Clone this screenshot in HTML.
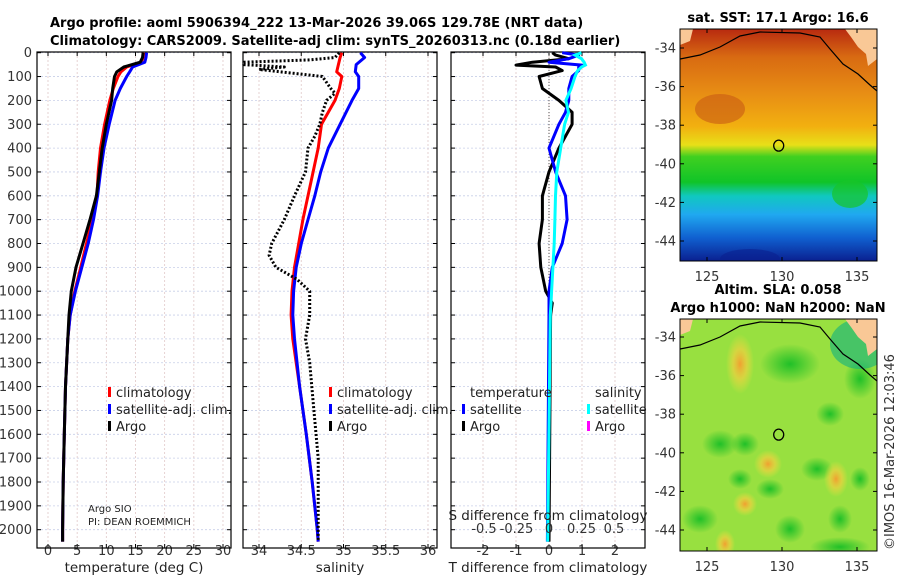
<!DOCTYPE html>
<html><head><meta charset="utf-8">
<style>
body{margin:0;background:#fff;}
svg{display:block;font-family:"DejaVu Sans","Liberation Sans",sans-serif;}
</style></head>
<body>
<svg id="fig" width="900" height="580" viewBox="0 0 900 580" xmlns="http://www.w3.org/2000/svg">
<defs>
<linearGradient id="sstGrad" x1="0" y1="0" x2="0" y2="1">
<stop offset="0" stop-color="#b82a10"/>
<stop offset="0.12" stop-color="#d86a12"/>
<stop offset="0.28" stop-color="#e88e14"/>
<stop offset="0.42" stop-color="#f2b010"/>
<stop offset="0.5" stop-color="#e8e018"/>
<stop offset="0.55" stop-color="#40d020"/>
<stop offset="0.66" stop-color="#10c428"/>
<stop offset="0.72" stop-color="#10c8c0"/>
<stop offset="0.8" stop-color="#20a8f0"/>
<stop offset="0.9" stop-color="#1060d0"/>
<stop offset="1" stop-color="#0a2090"/>
</linearGradient>
<radialGradient id="gblob"><stop offset="0" stop-color="#20c028"/><stop offset="1" stop-color="#20c028" stop-opacity="0"/></radialGradient>
<radialGradient id="oblob"><stop offset="0" stop-color="#f0a030"/><stop offset="0.5" stop-color="#f0d040" stop-opacity="0.7"/><stop offset="1" stop-color="#f0e040" stop-opacity="0"/></radialGradient>
<clipPath id="clipM1"><rect x="680" y="29" width="197" height="232"/></clipPath>
<clipPath id="clipM2"><rect x="680" y="319" width="197" height="232"/></clipPath>
</defs>
<g id="titles">
<text x="50" y="27" font-size="13" font-weight="bold">Argo profile: aoml 5906394_222 13-Mar-2026 39.06S 129.78E (NRT data)</text>
<text x="50" y="45" font-size="13" font-weight="bold">Climatology: CARS2009. Satellite-adj clim: synTS_20260313.nc (0.18d earlier)</text>
</g>
<g id="plots"></g>
<g id="maps"></g>
</svg>
<script>
// ---- data ----
const depthT = [0,20,40,60,80,100,150,200,300,400,500,600,700,800,900,1000,1100,1200,1400,1600,1800,2000,2050];
const tempArgo = [16.3,16.2,15.8,13.0,11.8,11.4,11.1,10.9,10.0,9.3,8.8,8.3,7.2,6.0,4.8,4.0,3.6,3.4,3.0,2.8,2.6,2.5,2.5];
const tempClim = [16.4,16.3,16.0,13.5,12.5,12.0,11.2,10.6,9.7,9.0,8.6,8.4,7.6,6.6,5.6,4.6,3.8,3.4,3.0,2.8,2.6,2.5,2.5];
const tempSat  = [16.9,16.8,16.6,14.5,14.0,13.5,12.4,11.5,10.5,9.6,9.0,8.5,7.8,6.9,5.8,4.7,3.8,3.4,3.0,2.8,2.6,2.5,2.5];
const depthS = [0,20,50,80,100,150,200,300,400,500,600,700,800,900,1000,1100,1200,1400,1600,1800,2000,2050];
const salClim = [34.98,34.96,34.94,34.92,34.98,34.95,34.9,34.74,34.7,34.64,34.58,34.52,34.47,34.42,34.39,34.38,34.4,34.48,34.56,34.63,34.69,34.7];
const salSat  = [35.2,35.25,35.15,35.14,35.18,35.18,35.1,34.96,34.82,34.73,34.66,34.58,34.5,34.44,34.41,34.4,34.42,34.48,34.56,34.63,34.69,34.7];
const depthSA = [0,20,30,40,50,60,70,80,100,150,170,200,250,300,350,400,500,600,700,800,850,900,950,1000,1100,1200,1300,1500,1700,2000,2050];
const salArgo = [34.95,34.9,34.6,33.82,33.82,34.3,34.0,34.25,34.75,34.85,34.9,34.8,34.75,34.72,34.66,34.58,34.55,34.42,34.3,34.15,34.12,34.2,34.45,34.6,34.6,34.55,34.6,34.65,34.7,34.7,34.7];
const depthD = [0,10,25,40,52,60,75,100,150,200,250,300,400,500,600,700,800,900,1000,1050,1100,2050];
const dTArgo = [0.1,0.2,0.6,-0.5,-1.0,0.2,0.4,-0.3,-0.2,0.3,0.7,0.7,0.3,0.0,-0.2,-0.2,-0.3,-0.25,-0.1,0.1,0.05,0.0];
const dTSat  = [0.4,0.9,0.6,0.0,1.0,0.9,0.9,0.7,0.6,0.6,0.5,0.3,0.0,0.2,0.5,0.55,0.4,0.1,0.0,0.0,0.0,-0.05];
const dSSat  = [0.25,0.2,0.25,0.27,0.28,0.25,0.22,0.2,0.17,0.13,0.15,0.12,0.09,0.06,0.05,0.045,0.04,0.03,0.02,0.015,0.01,-0.01];
const depthTicks = [0,100,200,300,400,500,600,700,800,900,1000,1100,1200,1300,1400,1500,1600,1700,1800,1900,2000];
const tTicks = [0,5,10,15,20,25,30];
const sTicks = [34,34.5,35,35.5,36];
const sTickLabels = ["34","34.5","35","35.5","36"];
const dTTicks = [-2,-1,0,1,2];
const dSTicks = [-0.5,-0.25,0,0.25,0.5];
const dSTickLabels = ["-0.5","-0.25","0","0.25","0.5"];
const latTicks = [-34,-36,-38,-40,-42,-44];
const lonTicks = [125,130,135];

const NS="http://www.w3.org/2000/svg";
function el(tag,attrs,parent,text){const e=document.createElementNS(NS,tag);for(const k in attrs)e.setAttribute(k,attrs[k]);if(text!==undefined)e.textContent=text;parent.appendChild(e);return e;}
const yD = d => 52.7 + d*0.2385;
const TOP=52, BOT=548;
const plots=document.getElementById('plots');

const panels=[
 {name:'temperature-panel',x0:37,x1:231,f:v=>48+v*5.833,ticks:tTicks,labels:tTicks.map(String),xlabel:'temperature (deg C)',lx:134},
 {name:'salinity-panel',x0:243,x1:437,f:v=>259+(v-34)*84.5,ticks:sTicks,labels:sTickLabels,xlabel:'salinity',lx:340},
 {name:'difference-panel',x0:451,x1:645,f:v=>549+v*33,ticks:dTTicks,labels:dTTicks.map(String),xlabel:'T difference from climatology',lx:548}
];
panels.forEach((p,i)=>{
 const g=el('g',{},plots);
 
 
 el('rect',{x:p.x0,y:TOP,width:p.x1-p.x0,height:BOT-TOP,fill:'#fff'},g);
 depthTicks.forEach(d=>{
  el('line',{x1:p.x0,x2:p.x1,y1:yD(d),y2:yD(d),stroke:'#c8cfe8','stroke-width':0.8,'stroke-dasharray':'2,2'},g);
  el('line',{x1:p.x0,x2:p.x0+4,y1:yD(d),y2:yD(d),stroke:'#000'},g);
  el('line',{x1:p.x1,x2:p.x1-4,y1:yD(d),y2:yD(d),stroke:'#000'},g);
  if(i===0){const t=el('text',{x:32,y:yD(d)+4.5,'font-size':13,'text-anchor':'end',fill:'#333'},g,String(d));}
 });
 p.ticks.forEach((v,j)=>{
  const x=p.f(v);
  el('line',{x1:x,x2:x,y1:TOP,y2:BOT,stroke:'#e0c8c8','stroke-width':0.8,'stroke-dasharray':'2,2'},g);
  el('line',{x1:x,x2:x,y1:BOT,y2:BOT-4,stroke:'#000'},g);
  el('line',{x1:x,x2:x,y1:TOP,y2:TOP+4,stroke:'#000'},g);
  const t=el('text',{x:x,y:555,'font-size':13,'text-anchor':'middle',fill:'#333'},g,p.labels[j]);
  
  
 });
 const xl=el('text',{x:p.lx,y:572,'font-size':13.5,'text-anchor':'middle',fill:'#222'},g,p.xlabel);
 
 
 el('rect',{x:p.x0,y:TOP,width:p.x1-p.x0,height:BOT-TOP,fill:'none',stroke:'#000','stroke-width':1.2},g);
 p.g=g;
});
function line(panel,depths,vals,color,w,dash,name){
 const pts=depths.map((d,i)=>panel.f(vals[i]).toFixed(1)+','+yD(d).toFixed(1)).join(' ');
 const pl=el('polyline',{points:pts,fill:'none',stroke:color,'stroke-width':w,'stroke-linejoin':'round'},panel.g);
 if(dash)pl.setAttribute('stroke-dasharray',dash);
 
 
}
const P1=panels[0],P2=panels[1],P3=panels[2];
line(P1,depthT,tempClim,'#f00',3,null,'temp-climatology-line');
line(P1,depthT,tempSat,'#00f',3,null,'temp-satellite-line');
line(P1,depthT,tempArgo,'#000',3,null,'temp-argo-line');
line(P2,depthS,salClim,'#f00',3,null,'sal-climatology-line');
line(P2,depthS,salSat,'#00f',3,null,'sal-satellite-line');
line(P2,depthSA,salArgo,'#000',3,'2,2','sal-argo-line');
el('line',{x1:549,x2:549,y1:TOP,y2:BOT,stroke:'#555','stroke-width':1,'stroke-dasharray':'1,2'},P3.g);
line(P3,depthD,dTArgo,'#000',3,null,'dT-argo-line');
line(P3,depthD,dTSat,'#00f',3,null,'dT-satellite-line');
const fS=v=>549+v*130;
{const pts=depthD.map((d,i)=>fS(dSSat[i]).toFixed(1)+','+yD(d).toFixed(1)).join(' ');
 const pl=el('polyline',{points:pts,fill:'none',stroke:'#0ff','stroke-width':3},P3.g);
 
 }
const sdt=el('text',{x:548,y:520,'font-size':13.5,'text-anchor':'middle',fill:'#222'},P3.g,'S difference from climatology');


dSTicks.forEach((v,j)=>{
 const t=el('text',{x:fS(v),y:533,'font-size':13,'text-anchor':'middle',fill:'#333'},P3.g,dSTickLabels[j]);
 
 
});
function leg(g,x,y,color,label,name){
 const gg=el('g',{},g);
 
 
 if(color)el('rect',{x:x,y:y-9,width:3,height:10,fill:color},gg);
 el('text',{x:x+8,y:y+1,'font-size':13,fill:'#222'},gg,label);
}
leg(P1.g,108,396,'#f00','climatology','legend-climatology');
leg(P1.g,108,413,'#00f','satellite-adj. clim.','legend-satellite-adj');
leg(P1.g,108,430,'#000','Argo','legend-argo');
leg(P2.g,329,396,'#f00','climatology','legend-climatology');
leg(P2.g,329,413,'#00f','satellite-adj. clim.','legend-satellite-adj');
leg(P2.g,329,430,'#000','Argo','legend-argo');
leg(P3.g,462,396,null,'temperature','legend-temperature-header');
leg(P3.g,462,413,'#00f','satellite','legend-t-satellite');
leg(P3.g,462,430,'#000','Argo','legend-t-argo');
leg(P3.g,587,396,null,'salinity','legend-salinity-header');
leg(P3.g,587,413,'#0ff','satellite','legend-s-satellite');
leg(P3.g,587,430,'#f0f','Argo','legend-s-argo');
const a1=el('text',{x:88,y:512,'font-size':10,fill:'#222'},P1.g,'Argo SIO');

const a2=el('text',{x:88,y:525,'font-size':10,fill:'#222'},P1.g,'PI: DEAN ROEMMICH');


// ---- maps ----
const maps=document.getElementById('maps');
const lonX=l=>782+(l-130)*15;
function mapFrame(y0,latY,name,title1,title2,isSST){
 const g=el('g',{},maps);
 
 
 const c=el('g',{'clip-path':'url(#'+(isSST?'clipM1':'clipM2')+')'},g);
 if(isSST){
  el('rect',{x:680,y:y0,width:197,height:232,fill:'url(#sstGrad)'},c);
  el('ellipse',{cx:720,cy:y0+80,rx:25,ry:15,fill:'#c85a14',opacity:0.6},c);
  el('ellipse',{cx:850,cy:y0+165,rx:18,ry:14,fill:'#18c428',opacity:0.7},c);
  el('ellipse',{cx:750,cy:y0+230,rx:30,ry:10,fill:'#0a2090',opacity:0.6},c);
 } else {
  el('rect',{x:680,y:y0,width:197,height:232,fill:'#98e040'},c);
  [[790,y0+45,30,20],[720,y0+125,18,14],[745,y0+125,14,12],[817,y0+150,16,12],[860,y0+60,16,20],[700,y0+200,18,14],[790,y0+210,15,14],[840,y0+200,12,14],[770,y0+170,14,10],[740,y0+160,12,10],[860,y0+160,10,12],[840,y0+228,30,10],[830,y0+95,14,12]].forEach(b=>el('ellipse',{cx:b[0],cy:b[1],rx:b[2],ry:b[3],fill:'url(#gblob)'},c));
  [[740,y0+45,14,30],[768,y0+145,14,14],[836,y0+160,12,18],[745,y0+185,12,12],[725,y0+225,10,14]].forEach(b=>el('ellipse',{cx:b[0],cy:b[1],rx:b[2],ry:b[3],fill:'url(#oblob)'},c));
  el('ellipse',{cx:860,cy:y0+25,rx:30,ry:25,fill:'#10b080',opacity:0.6},c);
 }
 el('path',{d:`M680 ${y0} L693 ${y0} L690 ${y0+12} L680 ${y0+16} Z`,fill:'#f9c896'},c);
 el('path',{d:`M845 ${y0} L877 ${y0} L877 ${y0+30} L868 ${y0+37} L866 ${y0+25} L858 ${y0+18} L851 ${y0+8} Z`,fill:'#f9c896'},c);
 const cl=el('polyline',{points:`680,${y0+30} 700,${y0+26} 720,${y0+18} 740,${y0+7} 760,${y0+3} 800,${y0+4} 820,${y0+8} 830,${y0+20} 843,${y0+35} 858,${y0+45} 870,${y0+56} 877,${y0+62}`,fill:'none',stroke:'#000','stroke-width':1.2},c);
 
 
 const mk=el('ellipse',{cx:lonX(129.78),cy:latY(-39.06),rx:5,ry:5.5,fill:'none',stroke:'#000','stroke-width':1.3},g);
 
 
 el('rect',{x:680,y:y0,width:197,height:232,fill:'none',stroke:'#000','stroke-width':1},g);
 latTicks.forEach(l=>{
  const y=latY(l);
  el('line',{x1:680,x2:684,y1:y,y2:y,stroke:'#000'},g);
  el('line',{x1:877,x2:873,y1:y,y2:y,stroke:'#000'},g);
  const t=el('text',{x:676,y:y+4.5,'font-size':13,'text-anchor':'end',fill:'#333'},g,String(l));
  
 });
 lonTicks.forEach(l=>{
  const x=lonX(l);
  el('line',{x1:x,x2:x,y1:y0+232,y2:y0+228,stroke:'#000'},g);
  el('line',{x1:x,x2:x,y1:y0,y2:y0+4,stroke:'#000'},g);
  const t=el('text',{x:x,y:y0+252,'font-size':13,'text-anchor':'middle',fill:'#333'},g,String(l));
  
 });
 if(title2){
  const t1=el('text',{x:778,y:y0-25,'font-size':13,'font-weight':'bold','text-anchor':'middle'},g,title1);
  
  const t2=el('text',{x:778,y:y0-7,'font-size':13,'font-weight':'bold','text-anchor':'middle'},g,title2);
  
 } else {
  const t1=el('text',{x:778,y:y0-7,'font-size':13,'font-weight':'bold','text-anchor':'middle'},g,title1);
  
 }
}
mapFrame(29,l=>48+(-34-l)*19.3,'sst-map','sat. SST: 17.1 Argo: 16.6',null,true);
mapFrame(319,l=>337+(-34-l)*19.3,'sla-map','Altim. SLA: 0.058','Argo h1000: NaN h2000: NaN',false);
const cp=el('text',{x:0,y:0,'font-size':13,fill:'#333',transform:'translate(894,550) rotate(-90)'},maps,'©IMOS 16-Mar-2026 12:03:46');


</script>
</body></html>
